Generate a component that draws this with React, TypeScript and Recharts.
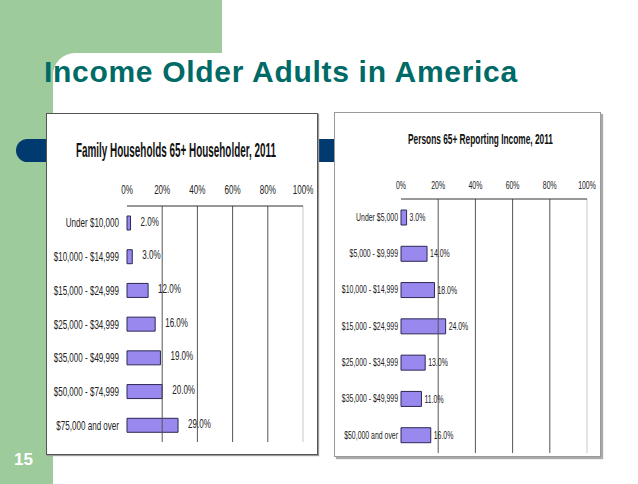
import React from 'react'
import { BarChart, Bar, XAxis, YAxis, ReferenceLine, LabelList } from 'recharts'

// Family Households 65+ Householder, 2011
const familyCategories = [
  'Under $10,000',
  '$10,000 - $14,999',
  '$15,000 - $24,999',
  '$25,000 - $34,999',
  '$35,000 - $49,999',
  '$50,000 - $74,999',
  '$75,000 and over',
]
const familyValues = [2, 3, 12, 16, 19, 20, 29]

// Persons 65+ Reporting Income, 2011
const personCategories = [
  'Under $5,000',
  '$5,000 - $9,999',
  '$10,000 - $14,999',
  '$15,000 - $24,999',
  '$25,000 - $34,999',
  '$35,000 - $49,999',
  '$50,000 and over',
]
const personValues = [3, 14, 18, 24, 13, 11, 16]

const percentTicks = [0, 20, 40, 60, 80, 100]
const gridTicks = [20, 40, 60, 80]
const boundaryTicks = [0, 1, 2, 3, 4, 5, 6, 7]

const FONT = '"Liberation Sans", Arial, sans-serif'
const GREEN = '#9dcb9b'
const BAR = '#9988ee'

type Geo = {
  width: number
  height: number
  margin: { top: number; right: number; left: number; bottom: number }
  catWidth: number
  barSize: number
  fs: number
  sx: number
  labelFs: number
  labelGap: number
  labelDy: number
  topDy: number
  tickGap: number
}

const EmptyTick = () => <g />

function IncomeChart({ categories, values, g }: { categories: string[]; values: number[]; g: Geo }) {
  const data = categories.map((name, i) => ({ name, value: values[i] }))

  const YTick = ({ x, y, payload }: any) => (
    <g transform={`translate(${x},${y})`}>
      <text transform={`scale(${g.sx},1)`} textAnchor="end" dy="0.35em" fontSize={g.fs} fill="#222" fontFamily={FONT}>
        {payload.value}
      </text>
    </g>
  )
  const XTick = ({ x, y, payload }: any) => (
    <g transform={`translate(${x},${y})`}>
      <text transform={`scale(${g.sx},1)`} textAnchor="middle" dy={g.topDy} fontSize={g.fs} fill="#222" fontFamily={FONT}>
        {payload.value}%
      </text>
    </g>
  )
  const ValueLabel = ({ x, y, width, height, value }: any) => (
    <g transform={`translate(${x + width + g.labelGap},${y + height / 2 + g.labelDy})`}>
      <text transform={`scale(${g.sx},1)`} dy="0.35em" fontSize={g.labelFs} fill="#222" fontFamily={FONT}>
        {Number(value).toFixed(1)}%
      </text>
    </g>
  )

  return (
    <BarChart width={g.width} height={g.height} data={data} layout="vertical" margin={g.margin} barCategoryGap={0}>
      <YAxis
        yAxisId="edge"
        type="number"
        domain={[0, 7]}
        ticks={boundaryTicks}
        width={0}
        tick={EmptyTick}
        tickSize={4}
        axisLine={{ stroke: '#333' }}
        tickLine={{ stroke: '#333' }}
      />
      <YAxis
        yAxisId="cat"
        type="category"
        dataKey="name"
        width={g.catWidth}
        axisLine={false}
        tickLine={false}
        tickSize={0}
        tickMargin={g.tickGap}
        tick={YTick}
        interval={0}
      />
      <XAxis
        xAxisId="top"
        type="number"
        orientation="top"
        domain={[0, 100]}
        ticks={percentTicks}
        height={20}
        axisLine={{ stroke: '#333' }}
        tickLine={false}
        tickSize={0}
        tickMargin={0}
        tick={XTick}
        interval={0}
      />
      <XAxis
        xAxisId="bottom"
        type="number"
        orientation="bottom"
        domain={[0, 100]}
        height={0}
        tick={EmptyTick}
        tickLine={false}
        axisLine={{ stroke: '#c8c8c8' }}
      />
      {gridTicks.map(t => (
        <ReferenceLine key={t} x={t} xAxisId="top" yAxisId="cat" stroke="#555" strokeWidth={1} />
      ))}
      <ReferenceLine x={100} xAxisId="top" yAxisId="cat" stroke="#c8c8c8" strokeWidth={1} />
      <Bar
        dataKey="value"
        xAxisId="top"
        yAxisId="cat"
        fill={BAR}
        stroke="#2a2a55"
        strokeWidth={1}
        barSize={g.barSize}
        isAnimationActive={false}
      >
        <LabelList dataKey="value" content={ValueLabel} />
      </Bar>
    </BarChart>
  )
}

const leftGeo: Geo = {
  width: 272,
  height: 342,
  margin: { top: 73, right: 15, left: 0, bottom: 13 },
  catWidth: 81,
  barSize: 14,
  fs: 13,
  sx: 0.62,
  labelFs: 13,
  labelGap: 10,
  labelDy: -2,
  topDy: -12,
  tickGap: 8,
}

const rightGeo: Geo = {
  width: 267,
  height: 345,
  margin: { top: 67, right: 14, left: 0, bottom: 4 },
  catWidth: 67,
  barSize: 15,
  fs: 10.5,
  sx: 0.66,
  labelFs: 10.5,
  labelGap: 3,
  labelDy: 0,
  topDy: -10,
  tickGap: 3,
}

export default function App() {
  return (
    <div style={{ position: 'absolute', left: 0, top: 0, width: 638, height: 484, background: '#fff', overflow: 'hidden', fontFamily: FONT }}>
      {/* green slide frame */}
      <div style={{ position: 'absolute', left: 0, top: 0, width: 222, height: 80, background: GREEN }} />
      <div style={{ position: 'absolute', left: 0, top: 0, width: 53, height: 484, background: GREEN }} />
      <div style={{ position: 'absolute', left: 53, top: 53, width: 200, height: 60, background: '#fff', borderTopLeftRadius: 22 }} />

      <div style={{ position: 'absolute', left: 44, top: 55, fontSize: 30, fontWeight: 700, color: '#006a66', whiteSpace: 'nowrap', letterSpacing: 0.7 }}>
        Income Older Adults in America
      </div>

      {/* blue accent bar */}
      <div style={{ position: 'absolute', left: 16, top: 139, width: 330, height: 23, background: '#003a6e', borderRadius: '12px 0 0 12px' }} />

      {/* left chart panel */}
      <div style={{ position: 'absolute', left: 46, top: 113, width: 270, height: 340, background: '#fff', border: '1px solid #555', boxShadow: '1px 1px 1px #999' }}>
        <svg width={270} height={60} style={{ position: 'absolute', left: 0, top: 0 }}>
          <text x={29} y={43} fontSize={20} fontWeight={700} fill="#111" fontFamily={FONT} textLength={200} lengthAdjust="spacingAndGlyphs">
            Family Households 65+ Householder, 2011
          </text>
        </svg>
        <div style={{ position: 'absolute', left: -1, top: -1 }}>
          <IncomeChart categories={familyCategories} values={familyValues} g={leftGeo} />
        </div>
      </div>

      {/* right chart panel */}
      <div style={{ position: 'absolute', left: 334, top: 112, width: 265, height: 343, background: '#fff', border: '1px solid #9a9a9a', boxShadow: '2px 2px 1px #aaa' }}>
        <svg width={265} height={50} style={{ position: 'absolute', left: 0, top: 0 }}>
          <text x={73} y={31} fontSize={15} fontWeight={700} fill="#111" fontFamily={FONT} textLength={145} lengthAdjust="spacingAndGlyphs">
            Persons 65+ Reporting Income, 2011
          </text>
        </svg>
        <div style={{ position: 'absolute', left: -1, top: -1 }}>
          <IncomeChart categories={personCategories} values={personValues} g={rightGeo} />
        </div>
      </div>

      <div style={{ position: 'absolute', left: 14, top: 450, fontSize: 17, fontWeight: 700, color: '#fff' }}>15</div>
    </div>
  )
}
